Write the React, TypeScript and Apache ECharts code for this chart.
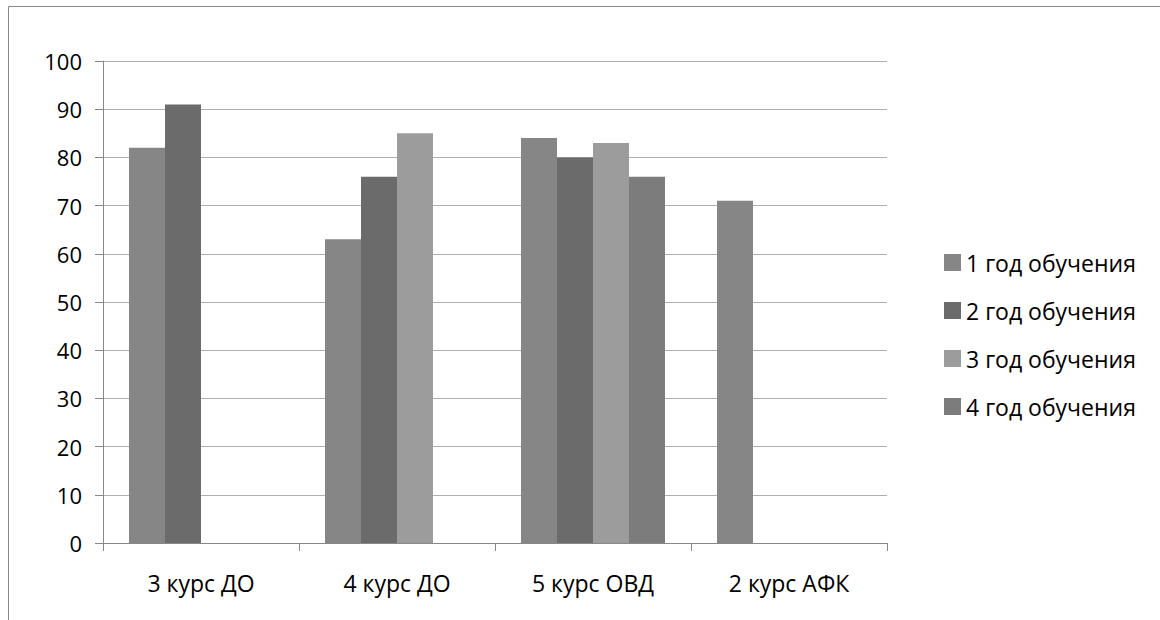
import React, { useEffect, useRef } from "react";
import * as echarts from "echarts";

const categories = ["3 курс ДО", "4 курс ДО", "5 курс ОВД", "2 курс АФК"];
const seriesNames = ["1 год обучения", "2 год обучения", "3 год обучения", "4 год обучения"];
const year1 = [82, 63, 84, 71];
const year2 = [91, 76, 80, null];
const year3 = [null, 85, 83, null];
const year4 = [null, null, 76, null];
const colors = ["#868686", "#6b6b6b", "#9c9c9c", "#7c7c7c"];

const FONT = "Open Sans";

export default function App() {
  const ref = useRef<HTMLDivElement>(null);
  useEffect(() => {
    if (!ref.current) return;
    const chart = echarts.init(ref.current, undefined, { renderer: "svg" });
    const values = [year1, year2, year3, year4];
    chart.setOption({
      animation: false,
      backgroundColor: "#ffffff",
      textStyle: { fontFamily: FONT },
      grid: { left: 103, right: 273, top: 61, bottom: 77, containLabel: false },
      legend: {
        orient: "vertical",
        left: 944,
        top: 251,
        padding: 0,
        itemWidth: 17,
        itemHeight: 17,
        itemGap: 25,
        icon: "rect",
        textStyle: { fontSize: 23, color: "#000", fontFamily: FONT, padding: [0, 0, 0, 0] },
        data: seriesNames,
      },
      xAxis: {
        type: "category",
        data: categories,
        axisLine: { lineStyle: { color: "#888888", width: 1 } },
        axisTick: { show: true, length: 8, lineStyle: { color: "#888888" } },
        axisLabel: { color: "#000", fontSize: 23, margin: 28, fontFamily: FONT },
      },
      yAxis: {
        type: "value",
        min: 0,
        max: 100,
        interval: 10,
        axisLine: { show: true, lineStyle: { color: "#888888", width: 1 } },
        axisTick: { show: true, length: 8, lineStyle: { color: "#888888" } },
        axisLabel: { color: "#000", fontSize: 22, margin: 21, fontFamily: FONT },
        splitLine: { show: true, lineStyle: { color: "#b0b0b0", width: 1 } },
      },
      series: seriesNames.map((name, i) => ({
        name,
        type: "bar",
        data: values[i],
        barWidth: 36,
        barGap: "0%",
        itemStyle: { color: colors[i] },
      })),
      graphic: [
        {
          type: "polyline",
          shape: { points: [[8.5, 620], [8.5, 6.5], [1160, 6.5]] },
          style: { stroke: "#888888", lineWidth: 1, fill: "none" },
          silent: true,
        },
      ],
    });
    return () => chart.dispose();
  }, []);
  return (
    <div
      ref={ref}
      style={{ position: "fixed", left: 0, top: 0, width: 1160, height: 620 }}
    />
  );
}
